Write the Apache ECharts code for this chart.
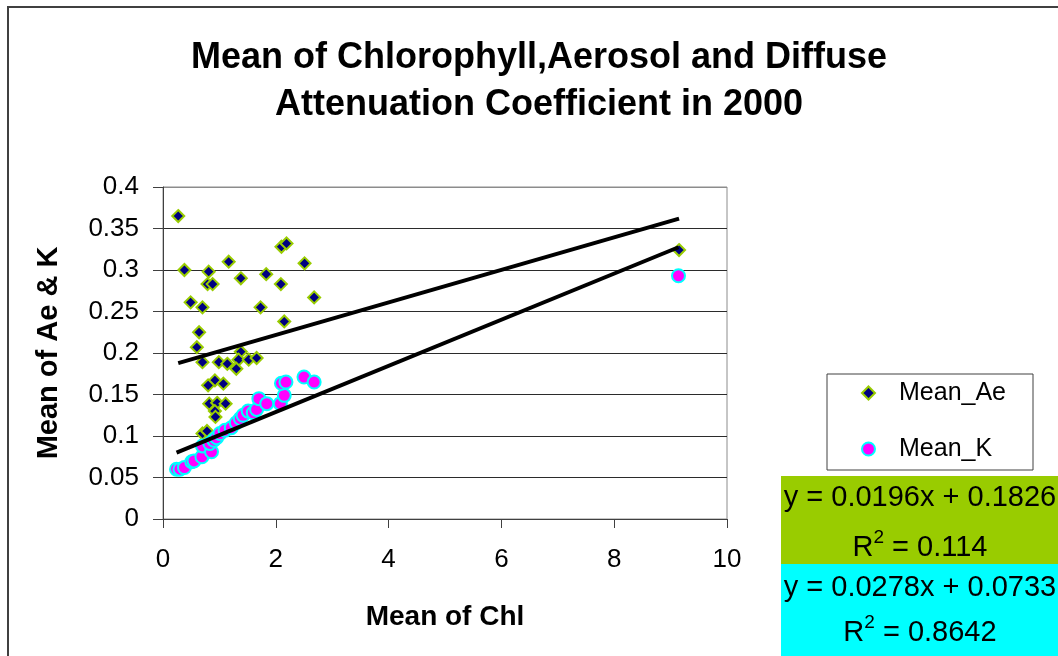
<!DOCTYPE html>
<html>
<head>
<meta charset="utf-8">
<script src="https://cdn.jsdelivr.net/npm/echarts@6/dist/echarts.min.js"></script>
<style>
  html, body { margin: 0; padding: 0; background: #fff; }
  #chart { width: 1058px; height: 656px; }
</style>
</head>
<body>
<div id="chart"></div>
<script>
// Mean chlorophyll (x) against mean aerosol (Ae) and diffuse attenuation (K), year 2000
const meanAe = [
  [0.27, 0.365], [0.38, 0.300], [0.49, 0.261], [0.64, 0.225], [0.60, 0.207],
  [0.70, 0.255], [0.70, 0.189], [0.81, 0.298], [0.79, 0.283], [0.88, 0.283],
  [0.99, 0.189], [1.14, 0.187], [1.165, 0.310], [1.38, 0.290], [1.38, 0.2016],
  [1.34, 0.192], [1.30, 0.181], [1.52, 0.192], [1.66, 0.194], [1.73, 0.255],
  [1.83, 0.295], [2.09, 0.283], [2.10, 0.328], [2.19, 0.332], [2.15, 0.238],
  [2.51, 0.308], [2.68, 0.267], [0.92, 0.167], [0.80, 0.161], [1.07, 0.163],
  [0.82, 0.139], [0.96, 0.140], [1.11, 0.139], [0.92, 0.130], [0.93, 0.123],
  [0.70, 0.103], [0.78, 0.106], [9.15, 0.324]
];
const meanK = [
  [0.24, 0.060], [0.30, 0.060], [0.38, 0.062], [0.51, 0.069], [0.55, 0.070],
  [0.69, 0.075], [0.70, 0.088], [0.86, 0.081], [0.83, 0.091], [0.90, 0.095],
  [0.95, 0.098], [1.01, 0.103], [1.10, 0.107], [1.21, 0.110], [1.30, 0.116],
  [1.37, 0.121], [1.42, 0.125], [1.51, 0.130], [1.60, 0.128], [1.66, 0.132],
  [1.70, 0.145], [1.84, 0.139], [2.08, 0.139], [2.15, 0.149], [2.10, 0.1635],
  [2.18, 0.165], [2.50, 0.171], [2.68, 0.165], [9.14, 0.293]
];

// Linear trendline fits
const fitAe = { slope: 0.0196, intercept: 0.1826, r2: '0.114' };
const fitK = { slope: 0.0278, intercept: 0.0733, r2: '0.8642' };

const xTicks = ['0', '2', '4', '6', '8', '10'];
const yTicks = ['0', '0.05', '0.1', '0.15', '0.2', '0.25', '0.3', '0.35', '0.4'];

const FONT = '"Liberation Sans", Arial, sans-serif';

function trendPoints(data, fit) {
  const xs = data.map(d => d[0]);
  const x0 = Math.min(...xs), x1 = Math.max(...xs);
  return [[x0, fit.slope * x0 + fit.intercept], [x1, fit.slope * x1 + fit.intercept]];
}
function eqText(fit) {
  return 'y = ' + fit.slope + 'x + ' + fit.intercept;
}
function eqLabel(x, y, text) {
  return { type: 'text', z: 6, silent: true, x: x, y: y,
    style: { text: text, fontFamily: FONT, fontSize: 29, fill: '#000',
      align: 'center', verticalAlign: 'middle',
      rich: { s: { fontFamily: FONT, fontSize: 19, verticalAlign: 'top', lineHeight: 34, fill: '#000' },
              n: { fontFamily: FONT, fontSize: 29, verticalAlign: 'bottom', lineHeight: 34, fill: '#000' } } } };
}

const chart = echarts.init(document.getElementById('chart'), null, { renderer: 'canvas' });

const gridColors = yTicks.map((t, i) => i === yTicks.length - 1 ? '#8c8c8c' : '#2b2b2b');

chart.setOption({
  animation: false,
  backgroundColor: '#ffffff',
  textStyle: { fontFamily: FONT },
  title: {
    text: 'Mean of Chlorophyll,Aerosol and Diffuse\nAttenuation Coefficient in 2000',
    left: 534,
    top: 30,
    textAlign: 'center',
    textStyle: { fontFamily: FONT, fontSize: 36, fontWeight: 'bold', color: '#000', lineHeight: 47 }
  },
  grid: {
    left: 163, top: 187, width: 564, height: 332,
    show: true, borderColor: '#8c8c8c', borderWidth: 1, backgroundColor: 'transparent'
  },
  legend: {
    data: ['Mean_Ae', 'Mean_K'],
    orient: 'vertical',
    left: 861,
    top: 378,
    padding: 0,
    itemGap: 26,
    itemWidth: 13,
    itemHeight: 13,
    textStyle: { fontFamily: FONT, fontSize: 25, color: '#000', lineHeight: 30, padding: [0, 0, 0, 19] }
  },
  xAxis: {
    type: 'value', min: 0, max: 10, interval: 2,
    name: 'Mean of Chl', nameLocation: 'middle', nameGap: 84,
    nameTextStyle: { fontFamily: FONT, fontSize: 28, fontWeight: 'bold', color: '#000' },
    axisLine: { show: true, lineStyle: { color: '#404040', width: 1 } },
    axisTick: { show: true, length: 9, lineStyle: { color: '#404040' } },
    axisLabel: { fontFamily: FONT, fontSize: 26, color: '#000', margin: 28,
      formatter: (v) => xTicks[Math.round(v / 2)] },
    splitLine: { show: false }
  },
  yAxis: {
    type: 'value', min: 0, max: 0.4, interval: 0.05,
    name: 'Mean of Ae & K', nameLocation: 'middle', nameGap: 100, nameRotate: 90,
    nameTextStyle: { fontFamily: FONT, fontSize: 29, fontWeight: 'bold', color: '#000' },
    axisLine: { show: true, lineStyle: { color: '#404040', width: 1 } },
    axisTick: { show: true, length: 10, lineStyle: { color: '#404040' } },
    axisLabel: { fontFamily: FONT, fontSize: 26, color: '#000', margin: 24,
      formatter: (v) => yTicks[Math.round(v / 0.05)] },
    splitLine: { show: true, lineStyle: { color: gridColors, width: 1 } }
  },
  series: [
    {
      name: 'Mean_Ae', type: 'scatter', data: meanAe,
      symbol: 'diamond', symbolSize: 12, z: 2,
      itemStyle: { color: '#000080', borderColor: '#99CC00', borderWidth: 2, opacity: 1 }
    },
    {
      name: 'Mean_K', type: 'scatter', data: meanK,
      symbol: 'circle', symbolSize: 13, z: 3,
      itemStyle: { color: '#FF00FF', borderColor: '#00FFFF', borderWidth: 2, opacity: 1 }
    },
    {
      name: 'Trend Ae', type: 'line', data: trendPoints(meanAe, fitAe),
      symbol: 'none', silent: true, z: 4,
      lineStyle: { color: '#000', width: 4 }
    },
    {
      name: 'Trend K', type: 'line', data: trendPoints(meanK, fitK),
      symbol: 'none', silent: true, z: 4,
      lineStyle: { color: '#000', width: 4 }
    }
  ],
  graphic: [
    // outer chart frame
    { type: 'rect', z: -10, silent: true,
      shape: { x: 8, y: 7, width: 1100, height: 700 },
      style: { fill: 'none', stroke: '#404040', lineWidth: 2 } },
    // legend frame
    { type: 'rect', z: 0, silent: true,
      shape: { x: 827, y: 374, width: 206, height: 96 },
      style: { fill: '#fff', stroke: '#404040', lineWidth: 1 } },
    // trendline equation boxes
    { type: 'rect', z: 5, silent: true,
      shape: { x: 781, y: 476, width: 290, height: 88 },
      style: { fill: '#99CC00' } },
    eqLabel(920, 498, eqText(fitAe)),
    eqLabel(920, 545, '{n|R}{s|2}{n| = ' + fitAe.r2 + '}'),
    { type: 'rect', z: 5, silent: true,
      shape: { x: 781, y: 564, width: 290, height: 100 },
      style: { fill: '#00FFFF' } },
    eqLabel(920, 588, eqText(fitK)),
    eqLabel(920, 630, '{n|R}{s|2}{n| = ' + fitK.r2 + '}')
  ]
});
</script>
</body>
</html>
